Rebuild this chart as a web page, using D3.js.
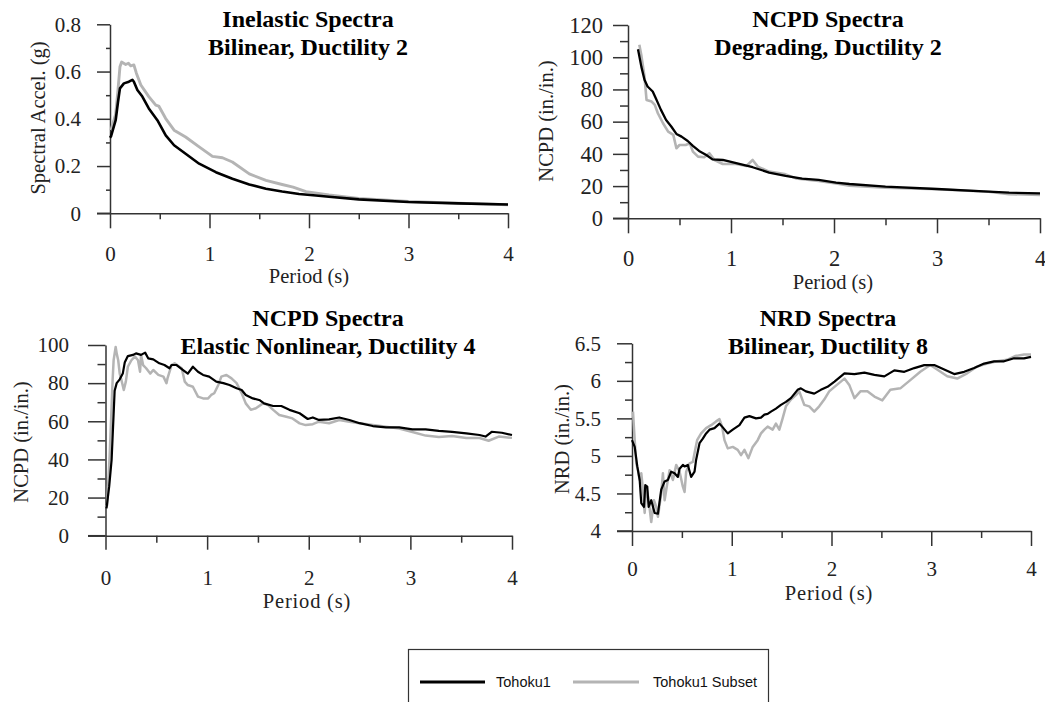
<!DOCTYPE html>
<html>
<head>
<meta charset="utf-8">
<script src="https://cdn.jsdelivr.net/npm/d3@7"></script>
<style>
  html, body { margin: 0; padding: 0; background: #fff; }
  svg { display: block; }
</style>
</head>
<body>
<svg id="chart" width="1045" height="702"></svg>
<script>
// ---------------- DATA ----------------
const seriesNames = ["Tohoku1", "Tohoku1 Subset"];
const panelTitles = [
  ["Inelastic Spectra", "Bilinear, Ductility 2"],
  ["NCPD Spectra", "Degrading, Ductility 2"],
  ["NCPD Spectra", "Elastic Nonlinear, Ductility 4"],
  ["NRD Spectra", "Bilinear, Ductility 8"]
];
const yAxisLabels = ["Spectral Accel. (g)", "NCPD (in./in.)", "NCPD (in./in.)", "NRD (in./in.)"];
const xAxisLabel = "Period (s)";
const xTickValues = [0, 1, 2, 3, 4];
const xTickLabels = ["0", "1", "2", "3", "4"];
const xMinorValues = [0.5, 1.5, 2.5, 3.5];

const p1YTicks = [0, 0.2, 0.4, 0.6, 0.8];
const p1YTickLabels = ["0", "0.2", "0.4", "0.6", "0.8"];
const p1YMinor = [0.1, 0.3, 0.5, 0.7];
const p2YTicks = [0, 20, 40, 60, 80, 100, 120];
const p2YTickLabels = ["0", "20", "40", "60", "80", "100", "120"];
const p2YMinor = [10, 30, 50, 70, 90, 110];
const p3YTicks = [0, 20, 40, 60, 80, 100];
const p3YTickLabels = ["0", "20", "40", "60", "80", "100"];
const p3YMinor = [10, 30, 50, 70, 90];
const p4YTicks = [4, 4.5, 5, 5.5, 6, 6.5];
const p4YTickLabels = ["4", "4.5", "5", "5.5", "6", "6.5"];
const p4YMinor = [4.25, 4.75, 5.25, 5.75, 6.25];

// [period (s), value]
const inelasticTohoku1 = [[0.0,0.32],[0.01,0.326],[0.057,0.394],[0.08,0.47],[0.1,0.529],[0.14,0.55],[0.19,0.557],[0.225,0.565],[0.24,0.557],[0.275,0.522],[0.325,0.494],[0.39,0.444],[0.476,0.394],[0.56,0.33],[0.644,0.288],[0.76,0.252],[0.896,0.21],[1.064,0.174],[1.23,0.146],[1.4,0.122],[1.567,0.104],[1.73,0.092],[1.9,0.082],[2.07,0.075],[2.2,0.07],[2.5,0.059],[3.0,0.048],[3.5,0.042],[4.0,0.037]];
const inelasticSubset = [[0.01,0.352],[0.057,0.42],[0.08,0.52],[0.1,0.62],[0.117,0.64],[0.158,0.63],[0.185,0.635],[0.208,0.624],[0.24,0.628],[0.265,0.593],[0.31,0.543],[0.39,0.494],[0.46,0.458],[0.49,0.454],[0.56,0.401],[0.644,0.352],[0.76,0.323],[0.896,0.281],[1.03,0.241],[1.13,0.235],[1.23,0.217],[1.4,0.167],[1.567,0.139],[1.73,0.122],[1.84,0.111],[1.97,0.092],[2.2,0.078],[2.5,0.063],[3.0,0.05],[3.5,0.043],[4.0,0.036]];

const degradingTohoku1 = [[0.097,105],[0.13,94],[0.16,86],[0.19,81.8],[0.24,78.7],[0.27,74.5],[0.32,67.3],[0.37,61],[0.42,57],[0.47,52.4],[0.52,50.7],[0.58,48],[0.63,45],[0.69,41.8],[0.76,39.3],[0.82,36.6],[0.92,36.2],[1.05,34.2],[1.21,31.7],[1.37,28.4],[1.53,26.3],[1.69,24.6],[1.85,23.8],[2.02,22.2],[2.15,21.3],[2.5,19.7],[3.0,18.2],[3.5,16.6],[3.7,15.9],[4.0,15.5]];
const degradingSubset = [[0.11,107.7],[0.13,101],[0.16,88],[0.18,73.5],[0.23,72.5],[0.26,70.4],[0.29,65.2],[0.34,59],[0.39,53.8],[0.44,51.8],[0.47,43.5],[0.5,45.5],[0.56,45.5],[0.6,46.6],[0.63,41.4],[0.68,38.3],[0.74,37.9],[0.79,40.4],[0.84,36.2],[0.92,33.7],[1.05,33.7],[1.15,32.5],[1.21,36.2],[1.26,32.1],[1.37,29],[1.52,27.5],[1.63,24.8],[1.85,23.2],[2.02,21.7],[2.15,20.3],[2.5,19],[3.0,18],[3.5,16.5],[3.7,15],[4.0,14.5]];

const elasticNLTohoku1 = [[0.01,14.3],[0.036,25.7],[0.06,39.7],[0.08,64],[0.09,76],[0.11,80],[0.14,82],[0.17,85],[0.19,91],[0.22,94.2],[0.27,94.8],[0.3,95.6],[0.35,94.8],[0.39,96],[0.42,93],[0.47,92.5],[0.53,90.4],[0.58,89.5],[0.63,87.8],[0.65,89.5],[0.7,89.5],[0.76,87],[0.81,85],[0.86,88.6],[0.91,86],[0.96,84.3],[1.02,83.4],[1.09,80.8],[1.16,80],[1.22,79],[1.29,77.3],[1.34,76.4],[1.38,73.8],[1.45,72],[1.52,71],[1.56,69.4],[1.65,68],[1.73,68],[1.81,66],[1.91,64.2],[1.99,61.2],[2.04,62],[2.1,60.7],[2.2,61],[2.3,62],[2.4,60.7],[2.5,59],[2.63,57.5],[2.76,56.8],[2.89,56.8],[3.02,55.8],[3.15,55.8],[3.28,55],[3.41,54.4],[3.55,53.7],[3.68,52.8],[3.74,52],[3.8,54.5],[3.9,54],[4.0,52.8]];
const elasticNLSubset = [[0.0,15],[0.016,16],[0.04,41],[0.06,67.6],[0.07,81.6],[0.08,92],[0.1,99],[0.11,95.6],[0.125,92],[0.14,85],[0.157,81.6],[0.18,76.4],[0.2,80.8],[0.22,88.6],[0.255,92],[0.29,94],[0.32,92],[0.34,86],[0.35,94.8],[0.37,89.5],[0.4,87.8],[0.44,85],[0.47,86.9],[0.52,84.3],[0.57,83.4],[0.6,80],[0.61,82.5],[0.65,89.5],[0.68,90.4],[0.75,87.8],[0.78,80.8],[0.81,79],[0.86,78.1],[0.91,72.9],[0.96,72],[1.01,72],[1.04,73.8],[1.07,74.7],[1.11,79],[1.14,83.4],[1.19,84.3],[1.24,82.5],[1.29,80],[1.34,74.7],[1.38,69.4],[1.43,66],[1.48,66.8],[1.55,69.4],[1.6,68.5],[1.65,66],[1.71,63.3],[1.78,62.4],[1.84,61.5],[1.91,58.9],[1.97,58],[2.04,58.5],[2.1,59.8],[2.2,59],[2.3,60.7],[2.4,59.8],[2.5,59],[2.63,58],[2.76,57.1],[2.89,56.2],[3.02,54.4],[3.15,52.5],[3.28,51.8],[3.41,52.3],[3.55,51.2],[3.68,51.2],[3.77,49.8],[3.87,52],[4.0,51.3]];

const nrdTohoku1 = [[0.0,5.21],[0.027,5.12],[0.053,4.86],[0.077,4.68],[0.093,4.37],[0.12,4.32],[0.133,4.61],[0.153,4.59],[0.167,4.32],[0.193,4.41],[0.227,4.24],[0.26,4.23],[0.293,4.55],[0.327,4.66],[0.36,4.68],[0.393,4.79],[0.427,4.77],[0.46,4.72],[0.477,4.83],[0.51,4.88],[0.527,4.86],[0.56,4.88],[0.593,4.72],[0.627,4.79],[0.643,4.95],[0.677,5.17],[0.71,5.23],[0.743,5.3],[0.777,5.35],[0.827,5.37],[0.877,5.43],[0.91,5.38],[0.96,5.3],[1.01,5.35],[1.077,5.41],[1.127,5.51],[1.177,5.53],[1.243,5.5],[1.293,5.51],[1.327,5.55],[1.36,5.56],[1.393,5.59],[1.443,5.63],[1.493,5.68],[1.543,5.72],[1.593,5.77],[1.66,5.88],[1.693,5.9],[1.743,5.86],[1.827,5.83],[1.893,5.88],[1.96,5.92],[2.03,5.99],[2.13,6.1],[2.23,6.09],[2.33,6.11],[2.43,6.08],[2.53,6.06],[2.63,6.14],[2.73,6.12],[2.83,6.17],[2.93,6.21],[3.03,6.21],[3.13,6.15],[3.23,6.09],[3.33,6.12],[3.43,6.17],[3.53,6.23],[3.63,6.26],[3.73,6.26],[3.83,6.3],[3.93,6.3],[4.0,6.32]];
const nrdSubset = [[0.01,5.59],[0.027,5.21],[0.043,4.9],[0.06,4.81],[0.077,4.68],[0.093,4.77],[0.11,4.55],[0.127,4.24],[0.143,4.59],[0.167,4.41],[0.193,4.12],[0.22,4.41],[0.243,4.32],[0.26,4.19],[0.293,4.5],[0.31,4.77],[0.327,4.41],[0.353,4.63],[0.377,4.81],[0.41,4.68],[0.443,4.88],[0.477,4.79],[0.51,4.59],[0.527,4.52],[0.543,4.79],[0.577,4.9],[0.61,4.92],[0.633,5.08],[0.653,5.21],[0.693,5.3],[0.743,5.37],[0.793,5.41],[0.843,5.46],[0.877,5.49],[0.903,5.39],[0.927,5.21],[0.96,5.1],[1.01,5.12],[1.06,5.08],[1.093,5.01],[1.127,5.08],[1.167,4.97],[1.21,5.12],[1.26,5.21],[1.293,5.3],[1.327,5.35],[1.36,5.39],[1.41,5.35],[1.443,5.43],[1.477,5.35],[1.51,5.5],[1.543,5.66],[1.593,5.75],[1.643,5.81],[1.677,5.86],[1.727,5.68],[1.777,5.66],[1.827,5.59],[1.877,5.66],[1.927,5.75],[1.977,5.86],[2.03,5.92],[2.13,6.03],[2.18,5.94],[2.23,5.77],[2.29,5.86],[2.36,5.86],[2.43,5.79],[2.51,5.74],[2.59,5.88],[2.69,5.9],[2.79,6.01],[2.89,6.12],[2.99,6.21],[3.07,6.14],[3.16,6.06],[3.26,6.03],[3.36,6.1],[3.46,6.19],[3.56,6.23],[3.66,6.26],[3.76,6.28],[3.84,6.33],[3.93,6.35],[4.0,6.35]];

// ---------------- LAYOUT ----------------
const SERIF = "'Liberation Serif', 'Times New Roman', serif";
const SANS = "'Liberation Sans', Arial, sans-serif";
const BLACK = "#000";
const GRAY = "#b4b4b4";

const panels = [
  { titles: panelTitles[0], yLabel: yAxisLabels[0], yDomain: [0, 0.8], yTicks: p1YTicks, yTickLabels: p1YTickLabels, yMinor: p1YMinor,
    a: inelasticTohoku1, b: inelasticSubset,
    xr: [110, 508], yr: [213.3, 24.3], majY: 13, minY: 4, majX: 15, minX: 6, yPad: 16, xPad: 17.8, tf: 21,
    title: [308, 27], xlab: [309, 283], ylab: [38, 118], lw: 2.6, ls: 0 },
  { titles: panelTitles[1], yLabel: yAxisLabels[1], yDomain: [0, 120], yTicks: p2YTicks, yTickLabels: p2YTickLabels, yMinor: p2YMinor,
    a: degradingTohoku1, b: degradingSubset,
    xr: [628, 1040], yr: [218.3, 25], majY: 15, minY: 8, majX: 15, minX: 7, yPad: 10, xPad: 16.7, tf: 22.5,
    title: [828, 27], xlab: [833, 289], ylab: [546, 121], lw: 2.3, ls: 0 },
  { titles: panelTitles[2], yLabel: yAxisLabels[2], yDomain: [0, 100], yTicks: p3YTicks, yTickLabels: p3YTickLabels, yMinor: p3YMinor,
    a: elasticNLTohoku1, b: elasticNLSubset,
    xr: [105.5, 512], yr: [535.7, 345], majY: 17.5, minY: 8, majX: 14, minX: 7, yPad: 19, xPad: 20.4, tf: 21,
    title: [328, 326], xlab: [307, 608], ylab: [21, 442], lw: 2.2, ls: 0.8 },
  { titles: panelTitles[3], yLabel: yAxisLabels[3], yDomain: [4, 6.5], yTicks: p4YTicks, yTickLabels: p4YTickLabels, yMinor: p4YMinor,
    a: nrdTohoku1, b: nrdSubset,
    xr: [632, 1031], yr: [531, 343.3], majY: 15, minY: 7, majX: 15, minX: 7, yPad: 16, xPad: 15.1, tf: 21,
    title: [828, 326], xlab: [829, 600], ylab: [562, 439], lw: 2.2, ls: 0.8 }
];

const svg = d3.select("#chart");

panels.forEach(p => {
  const x = d3.scaleLinear().domain([0, 4]).range(p.xr);
  const y = d3.scaleLinear().domain(p.yDomain).range(p.yr);
  const g = svg.append("g");

  const styleAxis = sel => {
    sel.attr("font-family", SERIF);
    sel.selectAll("path.domain").attr("stroke", "#333").attr("stroke-width", 1.5);
    sel.selectAll(".tick line").attr("stroke", "#333").attr("stroke-width", 1.5);
    sel.selectAll(".tick text").attr("font-family", SERIF).attr("font-size", p.tf).attr("fill", "#222");
  };
  g.append("g").attr("transform", `translate(${p.xr[0]},0)`)
    .call(d3.axisLeft(y).tickValues(p.yTicks).tickSize(p.majY).tickSizeOuter(0).tickPadding(p.yPad)
      .tickFormat((d, i) => p.yTickLabels[i]))
    .call(styleAxis);
  g.append("g").attr("transform", `translate(${p.xr[0]},0)`)
    .call(d3.axisLeft(y).tickValues(p.yMinor).tickSize(p.minY).tickSizeOuter(0).tickFormat(""))
    .call(s => s.select("path.domain").remove())
    .call(styleAxis);
  g.append("g").attr("transform", `translate(0,${p.yr[0]})`)
    .call(d3.axisBottom(x).tickValues(xTickValues).tickSize(p.majX).tickSizeOuter(0).tickPadding(p.xPad)
      .tickFormat((d, i) => xTickLabels[i]))
    .call(styleAxis);
  g.append("g").attr("transform", `translate(0,${p.yr[0]})`)
    .call(d3.axisBottom(x).tickValues(xMinorValues).tickSize(p.minX).tickSizeOuter(0).tickFormat(""))
    .call(s => s.select("path.domain").remove())
    .call(styleAxis);
  g.append("line").attr("x1", p.xr[0] - p.majY).attr("x2", p.xr[0])
    .attr("y1", p.yr[0]).attr("y2", p.yr[0]).attr("stroke", "#333").attr("stroke-width", 1.5);

  const line = d3.line().x(d => x(d[0])).y(d => y(d[1]));
  g.append("path").datum(p.b).attr("d", line).attr("fill", "none")
    .attr("stroke", GRAY).attr("stroke-width", p.lw + 0.3).attr("stroke-linejoin", "round");
  g.append("path").datum(p.a).attr("d", line).attr("fill", "none")
    .attr("stroke", BLACK).attr("stroke-width", p.lw).attr("stroke-linejoin", "round");

  p.titles.forEach((t, i) => {
    g.append("text").attr("x", p.title[0]).attr("y", p.title[1] + i * 27.5)
      .attr("text-anchor", "middle").attr("font-family", SERIF).attr("font-weight", "bold")
      .attr("font-size", 24).attr("fill", "#000").text(t);
  });

  g.append("text").attr("x", p.xlab[0]).attr("y", p.xlab[1]).attr("text-anchor", "middle")
    .attr("font-family", SERIF).attr("font-size", 20.5).attr("fill", "#222")
    .attr("letter-spacing", p.ls).text(xAxisLabel);
  g.append("text").attr("transform", `translate(${p.ylab[0]},${p.ylab[1]}) rotate(-90)`)
    .attr("text-anchor", "middle").attr("dy", "0.35em")
    .attr("font-family", SERIF).attr("font-size", 20.5).attr("fill", "#222").text(p.yLabel);
});

// legend
const lg = svg.append("g");
lg.append("rect").attr("x", 408.5).attr("y", 649.5).attr("width", 360).attr("height", 70)
  .attr("fill", "#fff").attr("stroke", "#333").attr("stroke-width", 1.2);
const legendItems = [
  { name: seriesNames[0], color: BLACK, x1: 420, x2: 485, tx: 496 },
  { name: seriesNames[1], color: GRAY, x1: 573, x2: 639, tx: 653 }
];
legendItems.forEach(it => {
  lg.append("line").attr("x1", it.x1).attr("x2", it.x2).attr("y1", 682).attr("y2", 682)
    .attr("stroke", it.color).attr("stroke-width", 3);
  lg.append("text").attr("x", it.tx).attr("y", 687).attr("font-family", SANS)
    .attr("font-size", 14.5).attr("fill", "#111").text(it.name);
});
</script>
</body>
</html>
